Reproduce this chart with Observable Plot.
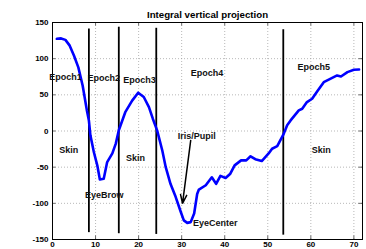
<!DOCTYPE html>
<html>
<head>
<meta charset="utf-8">
<script src="https://cdn.jsdelivr.net/npm/d3@7"></script>
<script src="https://cdn.jsdelivr.net/npm/@observablehq/plot@0.6"></script>
<style>
  html, body { margin: 0; padding: 0; background: #fff; }
  svg { display: block; }
</style>
</head>
<body>
<div id="chart"></div>
<script>
const title = "Integral vertical projection";
const xTicks = [0, 10, 20, 30, 40, 50, 60, 70];
const yTicks = [-150, -100, -50, 0, 50, 100, 150];

const curveX = [1,2,3,4,5,6,7,8,8.45,8.8,9.6,10.4,11,11.9,12.7,13.9,14.7,15.4,16.9,18.5,19.9,21.2,22.4,23.3,24.3,25.5,26.3,27.4,28.6,29.8,30.5,31.3,32.1,32.9,33.6,34,35.6,37,38,39,40.2,41.3,42.3,43.8,45,46,47.1,48.6,50.2,51,52.2,53.7,54.5,55.3,57.2,58,59.1,60.3,61.5,63,64.5,66.1,67,68.5,70,71.2];
const curveY = [127.5,128,126,118,104,88,63,28,14.6,-6,-29,-47.5,-67,-66,-43,-31,-17.5,1,26,42,53,47,33,17,0.8,-27,-50,-73,-91,-112,-123.5,-127,-126,-114,-87,-81,-75,-64,-73,-62,-65,-59,-47.5,-40.6,-40.6,-35,-39,-41.5,-31,-24.5,-21,-4,8,14.6,28.5,30.8,40,44.6,55,67.5,72,76.8,75.4,81.4,84.6,85];

const epochX = [8.45, 15.4, 24.1, 53.6];
const epochTop = [141, 143.5, 142, 140];
const epochBottom = [-140.5, -142, -143, -144];

const labelText = ["Epoch1","Epoch2","Epoch3","Epoch4","Epoch5","Skin","EyeBrow","Skin","Iris/Pupil","EyeCenter","Skin"];
const labelX = [3.0, 11.9, 20.2, 35.9, 60.7, 3.8, 12.0, 19.3, 33.5, 37.8, 62.4];
const labelY = [74, 72.6, 70, 79.6, 87.8, -26.8, -89, -37.8, -7, -127.6, -26.8];

const arrowFrom = [32.1, -13];
const arrowTo = [30.2, -100];

const W = 366, H = 249, mL = 52, mR = 4, mT = 22, mB = 10;
const fw = W - mL - mR, fh = H - mT - mB, tl = 3.5;

const curve = curveX.map((x, i) => ({x, y: curveY[i]}));
const epochs = epochX.map((x, i) => ({x, y1: epochBottom[i], y2: epochTop[i]}));
const labels = labelText.map((t, i) => ({t, x: labelX[i], y: labelY[i]}));
const font = "'Liberation Sans', Arial, Helvetica, sans-serif";

const chart = Plot.plot({
  width: W, height: H,
  marginLeft: mL, marginRight: mR, marginTop: mT, marginBottom: mB,
  style: {fontFamily: font, fontSize: "8px", fontWeight: "bold", background: "#fff", overflow: "visible"},
  x: {domain: [0, 72]},
  y: {domain: [-150, 150]},
  marks: [
    Plot.gridX(xTicks, {stroke: "#999", strokeOpacity: 1, strokeWidth: 0.7, strokeDasharray: "1,2"}),
    Plot.gridY(yTicks, {stroke: "#999", strokeOpacity: 1, strokeWidth: 0.7, strokeDasharray: "1,2"}),
    Plot.tickX(xTicks, {x: d => d, insetTop: fh - tl, stroke: "#444", strokeWidth: 0.8}),
    Plot.tickX(xTicks, {x: d => d, insetBottom: fh - tl, stroke: "#444", strokeWidth: 0.8}),
    Plot.tickY(yTicks, {y: d => d, insetRight: fw - tl, stroke: "#444", strokeWidth: 0.8}),
    Plot.tickY(yTicks, {y: d => d, insetLeft: fw - tl, stroke: "#444", strokeWidth: 0.8}),
    Plot.frame({stroke: "black", strokeWidth: 1}),
    Plot.ruleX(epochs, {x: "x", y1: "y1", y2: "y2", stroke: "black", strokeWidth: 1.8}),
    Plot.line(curve, {x: "x", y: "y", stroke: "#0000ff", strokeWidth: 2.6, strokeLinejoin: "round"}),
    Plot.arrow([0], {x1: () => arrowFrom[0], y1: () => arrowFrom[1], x2: () => arrowTo[0], y2: () => arrowTo[1], stroke: "black", strokeWidth: 1.5, headLength: 9, headAngle: 40}),
    Plot.text(labels, {x: "x", y: "y", text: "t", fontSize: 9, fontWeight: "bold", fill: "#111"}),
    Plot.text([title], {frameAnchor: "top", lineAnchor: "middle", dy: -8, fontSize: 9.7, fontWeight: "bold", fill: "black"}),
    Plot.axisX(xTicks, {tickSize: 0, tickPadding: 1.5, label: null, tickFormat: d => String(d)}),
    Plot.axisY(yTicks, {tickSize: 0, tickPadding: 4, label: null, tickFormat: d => String(d)})
  ]
});
document.getElementById("chart").appendChild(chart);
</script>
</body>
</html>
